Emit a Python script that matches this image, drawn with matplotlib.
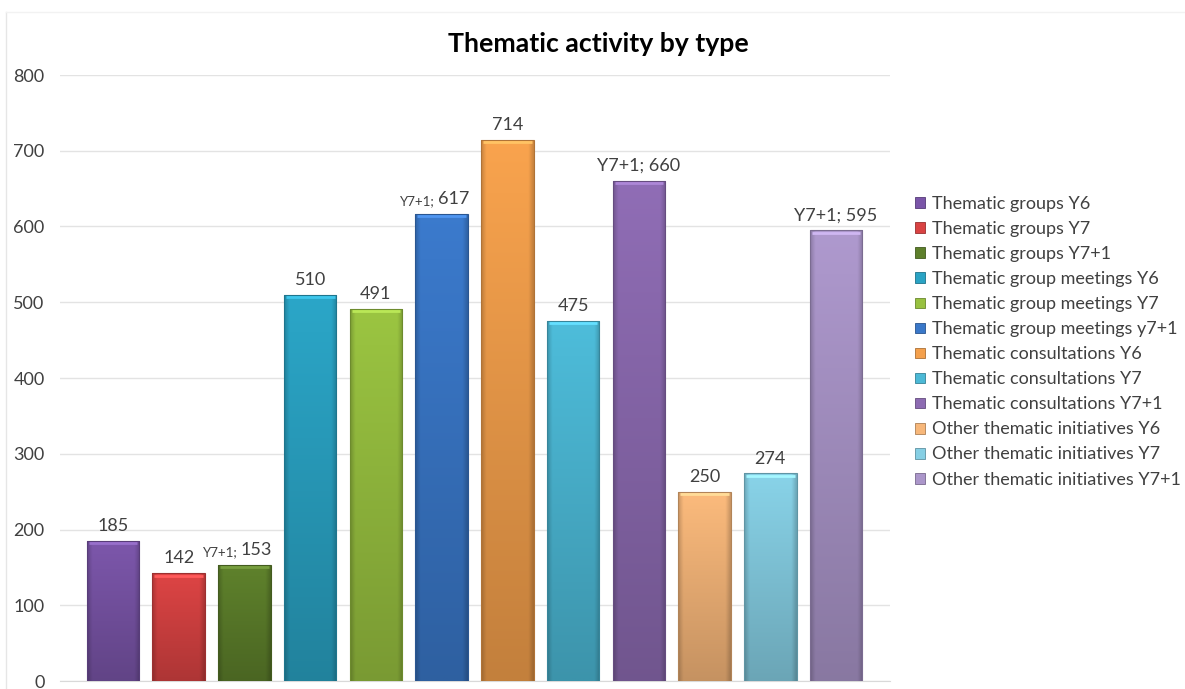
import numpy as np
import matplotlib
matplotlib.use("Agg")
import matplotlib.pyplot as plt
from matplotlib.colors import to_rgb
from matplotlib.patches import Patch, Rectangle
from matplotlib.lines import Line2D

series = [
    "Thematic groups Y6", "Thematic groups Y7", "Thematic groups Y7+1",
    "Thematic group meetings Y6", "Thematic group meetings Y7", "Thematic group meetings y7+1",
    "Thematic consultations Y6", "Thematic consultations Y7", "Thematic consultations Y7+1",
    "Other thematic initiatives Y6", "Other thematic initiatives Y7", "Other thematic initiatives Y7+1",
]
values = [185, 142, 153, 510, 491, 617, 714, 475, 660, 250, 274, 595]
# label prefix and whether it is set in a smaller size
prefixes = ["", "", "Y7+1; ", "", "", "Y7+1; ", "", "", "Y7+1; ", "", "", "Y7+1; "]
small_prefix = [False, False, True, False, False, True, False, False, False, False, False, False]
colors = ["#7a55a8", "#d94343", "#5d7f2b", "#2aa3c4", "#98c140", "#3a78c9",
          "#f4a04c", "#4cb9d6", "#8d6bb2", "#f7b77a", "#86cfe4", "#ab96ca"]
yticks = [0, 100, 200, 300, 400, 500, 600, 700, 800]

FONT = ["Lato", "DejaVu Sans"]
plt.rcParams["font.family"] = FONT

fig = plt.figure(figsize=(11.85, 6.89), dpi=100)
ax = fig.add_axes([60 / 1185, 1 - 681 / 689, 830 / 1185, (681 - 75) / 689])

x = np.arange(len(values))
width = 0.8
bars = ax.bar(x, values, width=width, color=colors, edgecolor="none", zorder=2)


def shaded(rgb, n=64, m=32):
    rgb = np.array(rgb)
    v = np.linspace(1.0, 0.0, n)[:, None]          # 1 at top
    h = np.linspace(-1, 1, m)[None, :]
    vert = 0.80 + 0.22 * v                          # darker towards the base
    edge = 1.0 - 0.18 * np.clip((np.abs(h) - 0.82) / 0.18, 0, 1)
    f = vert * edge
    img = np.clip(rgb[None, None, :] * f[..., None], 0, 1)
    return img


for b, c in zip(bars, colors):
    x0, w, h = b.get_x(), b.get_width(), b.get_height()
    im = ax.imshow(shaded(to_rgb(c)), extent=(x0, x0 + w, 0, h), aspect="auto",
                   origin="upper", zorder=3, interpolation="bilinear")
    im.set_clip_path(b)
    edge_rgb = np.array(to_rgb(c)) * 0.72
    ax.add_patch(Rectangle((x0, 0), w, h, fill=False, edgecolor=edge_rgb,
                           linewidth=0.8, zorder=4))
    top_rgb = np.clip(np.array(to_rgb(c)) * 1.12 + 0.06, 0, 1)
    ax.add_line(Line2D([x0 + 0.03, x0 + w - 0.03], [h - 3, h - 3], color=top_rgb,
                       linewidth=2.0, zorder=4, solid_capstyle="butt"))

for xi, v, p, sm in zip(x, values, prefixes, small_prefix):
    if p and sm:
        ax.annotate(p.strip(), (xi, v), xytext=(-5, 5), textcoords="offset points",
                    ha="right", va="bottom", fontsize=9.5, color="#404040")
        ax.annotate(str(v), (xi, v), xytext=(-3, 5), textcoords="offset points",
                    ha="left", va="bottom", fontsize=13, color="#404040")
    else:
        ax.annotate(p + str(v), (xi, v), xytext=(0, 5), textcoords="offset points",
                    ha="center", va="bottom", fontsize=13, color="#404040")

ax.set_xlim(-0.806, 11.82)
ax.set_ylim(0, 800)
ax.set_yticks(yticks)
ax.set_yticklabels([str(t) for t in yticks], fontsize=13, color="#404040")
ax.set_xticks([])
ax.tick_params(axis="y", length=0, pad=11)
ax.grid(axis="y", color="#e3e3e3", linewidth=1.0, zorder=0)
for s in ["top", "right", "left"]:
    ax.spines[s].set_visible(False)
ax.spines["bottom"].set_color("#d9d9d9")

fig.text(598 / 1185, 1 - 44 / 689, "Thematic activity by type", ha="center", va="center",
         fontsize=19.2, fontweight="bold", color="#000000")

handles = [Patch(facecolor=c, edgecolor=np.array(to_rgb(c)) * 0.7, linewidth=0.6) for c in colors]
leg = fig.legend(handles, series, loc="upper left", bbox_to_anchor=(908 / 1185, 1 - 189 / 689),
                 frameon=False, fontsize=13, handlelength=0.55, handleheight=0.55,
                 handletextpad=0.4, labelspacing=0.50, borderaxespad=0)
for t in leg.get_texts():
    t.set_color("#404040")

# faint outer frame of the chart area
fig.add_artist(Line2D([6 / 1185, 6 / 1185], [0, 1 - 12 / 689], color="#e6e6e6",
                      linewidth=1.0, transform=fig.transFigure))
fig.add_artist(Line2D([6 / 1185, 1], [1 - 12 / 689, 1 - 12 / 689], color="#f2f2f2",
                      linewidth=1.0, transform=fig.transFigure))

fig.savefig("out.png", dpi=100, facecolor="white")
